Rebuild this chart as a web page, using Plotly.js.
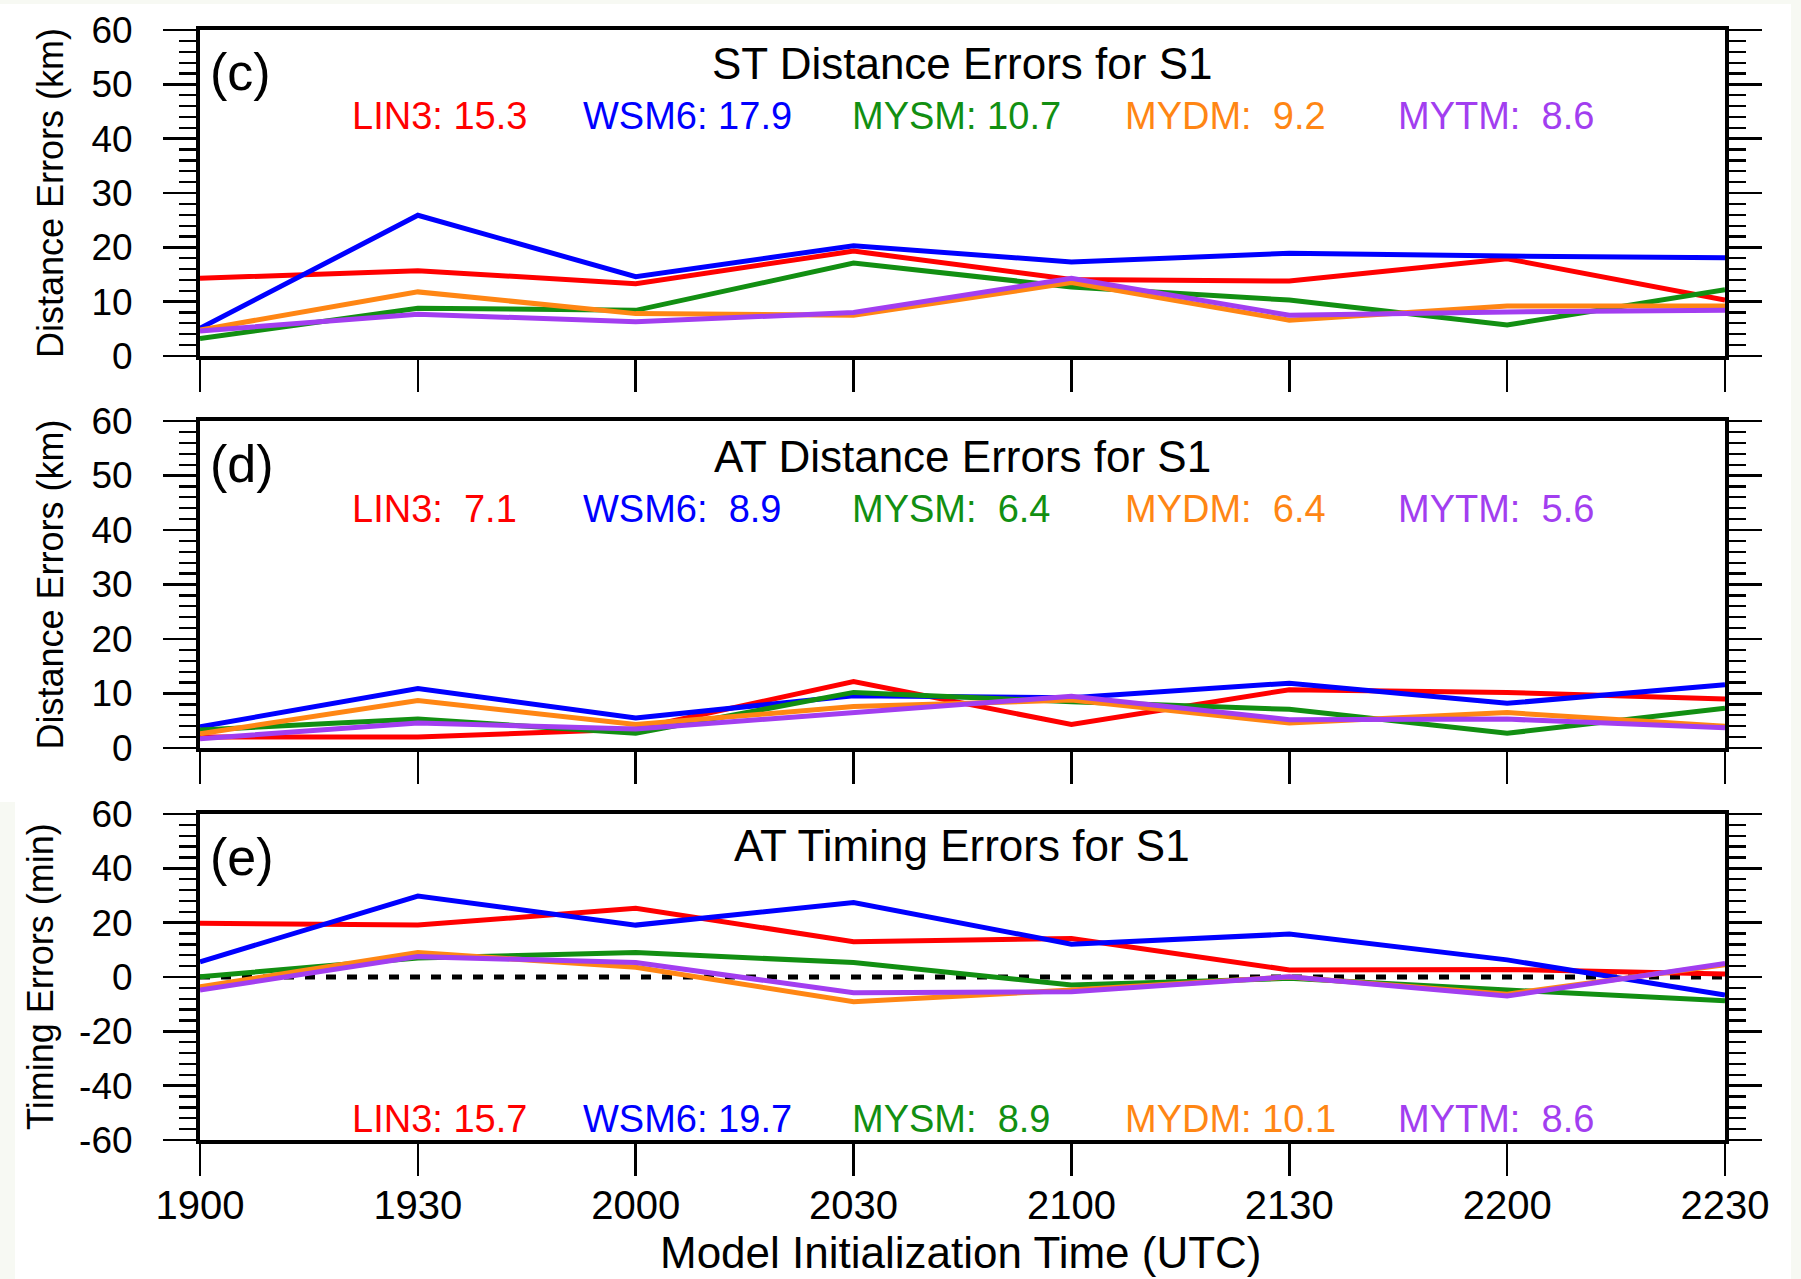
<!DOCTYPE html>
<html>
<head>
<meta charset="utf-8">
<script src="https://cdn.plot.ly/plotly-3.0.1.min.js"></script>
<style>html,body{margin:0;padding:0;background:#fff;}#chart{width:1801px;height:1279px;}</style>
</head>
<body>
<div id="chart"></div>
<script>
// ---------------- DATA ----------------
const times = ['1900','1930','2000','2030','2100','2130','2200','2230'];
const schemes = ['LIN3','WSM6','MYSM','MYDM','MYTM'];

// (c) ST Distance Errors for S1 (km)
const stDistLIN3 = [14.3, 15.7, 13.3, 19.3, 14.1, 13.8, 17.9, 10.3];
const stDistWSM6 = [5.1, 25.9, 14.6, 20.3, 17.3, 18.9, 18.4, 18.1];
const stDistMYSM = [3.2, 8.8, 8.4, 17.1, 12.7, 10.3, 5.7, 12.2];
const stDistMYDM = [4.8, 11.8, 7.8, 7.5, 13.5, 6.6, 9.2, 9.2];
const stDistMYTM = [4.6, 7.7, 6.3, 8.0, 14.3, 7.5, 8.1, 8.4];
const stDistMean = [15.3, 17.9, 10.7, 9.2, 8.6];

// (d) AT Distance Errors for S1 (km)
const atDistLIN3 = [2.0, 2.0, 3.5, 12.2, 4.3, 10.7, 10.2, 9.0];
const atDistWSM6 = [3.9, 10.9, 5.5, 9.6, 9.2, 11.9, 8.2, 11.6];
const atDistMYSM = [3.3, 5.3, 2.7, 10.2, 8.5, 7.1, 2.7, 7.3];
const atDistMYDM = [2.6, 8.7, 4.3, 7.6, 8.8, 4.6, 6.5, 4.0];
const atDistMYTM = [1.7, 4.6, 3.5, 6.4, 9.5, 5.2, 5.3, 3.7];
const atDistMean = [7.1, 8.9, 6.4, 6.4, 5.6];

// (e) AT Timing Errors for S1 (min)
const atTimeLIN3 = [19.8, 19.1, 25.3, 13.0, 14.2, 2.6, 2.8, 1.1];
const atTimeWSM6 = [5.6, 29.8, 19.1, 27.4, 12.1, 15.8, 6.3, -6.6];
const atTimeMYSM = [0.1, 7.0, 9.0, 5.3, -2.9, -0.5, -4.8, -8.7];
const atTimeMYDM = [-3.6, 9.0, 3.6, -9.1, -4.8, 0.0, -6.3, 4.5];
const atTimeMYTM = [-4.8, 7.5, 5.3, -5.8, -5.4, 0.1, -7.0, 5.0];
const atTimeMean = [15.7, 19.7, 8.9, 10.1, 8.6];

// tick labels
const distTicks = [0, 10, 20, 30, 40, 50, 60];
const timeTicks = [-60, -40, -20, 0, 20, 40, 60];

const panelTitles = ['ST Distance Errors for S1', 'AT Distance Errors for S1', 'AT Timing Errors for S1'];
const panelLetters = ['(c)', '(d)', '(e)'];
const yTitles = ['Distance Errors (km)', 'Distance Errors (km)', 'Timing Errors (min)'];
const xTitle = 'Model Initialization Time (UTC)';

// ---------------- STYLE ----------------
const colors = ['#ff0000', '#0000ff', '#128f12', '#ff8614', '#a23ef0'];
const FONT = 'Liberation Sans, Arial, Helvetica, sans-serif';
const W = 1801, H = 1279;
const px = v => v / W;
const py = v => 1 - v / H;

const panels = [
  {series: [stDistLIN3, stDistWSM6, stDistMYSM, stDistMYDM, stDistMYTM], mean: stDistMean, top: 30, bot: 356, range: [0, 60], ticks: distTicks, minor: 2},
  {series: [atDistLIN3, atDistWSM6, atDistMYSM, atDistMYDM, atDistMYTM], mean: atDistMean, top: 421, bot: 748, range: [0, 60], ticks: distTicks, minor: 2},
  {series: [atTimeLIN3, atTimeWSM6, atTimeMYSM, atTimeMYDM, atTimeMYTM], mean: atTimeMean, top: 814, bot: 1140, range: [-60, 60], ticks: timeTicks, minor: 4}
];

const xL = 200, xR = 1725;
const traces = [];
const layout = {
  width: W, height: H,
  margin: {l: 0, r: 0, t: 0, b: 0},
  paper_bgcolor: '#ffffff', plot_bgcolor: '#ffffff',
  showlegend: false,
  font: {family: FONT, color: '#000'},
  annotations: [], shapes: []
};

// faint tinted edges of the original figure
const tint = '#f7f9f3';
layout.shapes.push({type: 'rect', xref: 'paper', yref: 'paper', x0: 0, x1: 1, y0: py(4), y1: 1, fillcolor: tint, line: {width: 0}, layer: 'below'});
layout.shapes.push({type: 'rect', xref: 'paper', yref: 'paper', x0: 0, x1: px(15), y0: 0, y1: py(802), fillcolor: tint, line: {width: 0}, layer: 'below'});
layout.shapes.push({type: 'rect', xref: 'paper', yref: 'paper', x0: px(1791), x1: 1, y0: 0, y1: 1, fillcolor: tint, line: {width: 0}, layer: 'below'});

const legendX = [350, 581, 850, 1123, 1396];
const legendY = [116, 509, 1119];
const titleY = [64, 456, 845];
const letterY = [72, 464, 857];
const yTitleX = [50, 50, 40];

panels.forEach((p, i) => {
  const n = i === 0 ? '' : String(i + 1);
  const xa = 'xaxis' + n, ya = 'yaxis' + n;
  layout[xa] = {
    type: 'category', range: [0, 7], domain: [px(xL), px(xR)], anchor: 'y' + n,
    showline: true, linewidth: 4, linecolor: '#000', mirror: true,
    ticks: 'outside', ticklen: 32, tickwidth: 2.5, tickcolor: '#000',
    showgrid: false, zeroline: false,
    showticklabels: i === 2, tickfont: {size: 40, family: FONT, color: '#000'},
    ticklabelstandoff: -5
  };
  layout[ya] = {
    range: p.range, domain: [py(p.bot), py(p.top)], anchor: 'x' + n,
    tickmode: 'array', tickvals: p.ticks, ticktext: p.ticks.map(v => String(v)),
    showline: true, linewidth: 4, linecolor: '#000', mirror: 'allticks',
    ticks: 'outside', ticklen: 33, tickwidth: 2.8, tickcolor: '#000',
    minor: {tickmode: 'linear', tick0: 0, dtick: p.minor, ticks: 'outside', ticklen: 17, tickwidth: 2.2, tickcolor: '#000', showgrid: false},
    showgrid: false, zeroline: false,
    tickfont: {size: 37, family: FONT, color: '#000'},
    ticklabelstandoff: 23
  };
  p.series.forEach((s, k) => {
    traces.push({
      x: times, y: s, xaxis: 'x' + n, yaxis: 'y' + n,
      type: 'scatter', mode: 'lines', name: schemes[k],
      line: {color: colors[k], width: 5},
      cliponaxis: false, hoverinfo: 'skip'
    });
  });
  layout.annotations.push({text: panelTitles[i], xref: 'paper', yref: 'paper', x: px(962), y: py(titleY[i]),
    xanchor: 'center', yanchor: 'middle', showarrow: false, font: {size: 44, family: FONT, color: '#000'}});
  layout.annotations.push({text: panelLetters[i], xref: 'paper', yref: 'paper', x: px(208), y: py(letterY[i]),
    xanchor: 'left', yanchor: 'middle', showarrow: false, font: {size: 52, family: FONT, color: '#000'}});
  layout.annotations.push({text: yTitles[i], xref: 'paper', yref: 'paper', x: px(yTitleX[i]), y: py((p.top + p.bot) / 2),
    xanchor: 'center', yanchor: 'middle', textangle: -90, showarrow: false, font: {size: 36, family: FONT, color: '#000'}});
  schemes.forEach((s, k) => {
    const t = (s + ':' + p.mean[k].toFixed(1).padStart(5, ' ')).replace(/ /g, '\u00a0');
    layout.annotations.push({text: t, xref: 'paper', yref: 'paper', x: px(legendX[k]), y: py(legendY[i]),
      xanchor: 'left', yanchor: 'middle', showarrow: false, font: {size: 38, family: FONT, color: colors[k]}});
  });
});

// zero reference line in timing panel
layout.shapes.push({type: 'line', xref: 'x3 domain', yref: 'y3', x0: 0, x1: 1, y0: 0, y1: 0,
  line: {color: '#000', width: 5, dash: '10px,11px'}, layer: 'below'});

layout.annotations.push({text: xTitle, xref: 'paper', yref: 'paper', x: px(961), y: py(1252),
  xanchor: 'center', yanchor: 'middle', showarrow: false, font: {size: 44, family: FONT, color: '#000'}});

Plotly.newPlot('chart', traces, layout, {staticPlot: true, displayModeBar: false});
</script>
</body>
</html>
